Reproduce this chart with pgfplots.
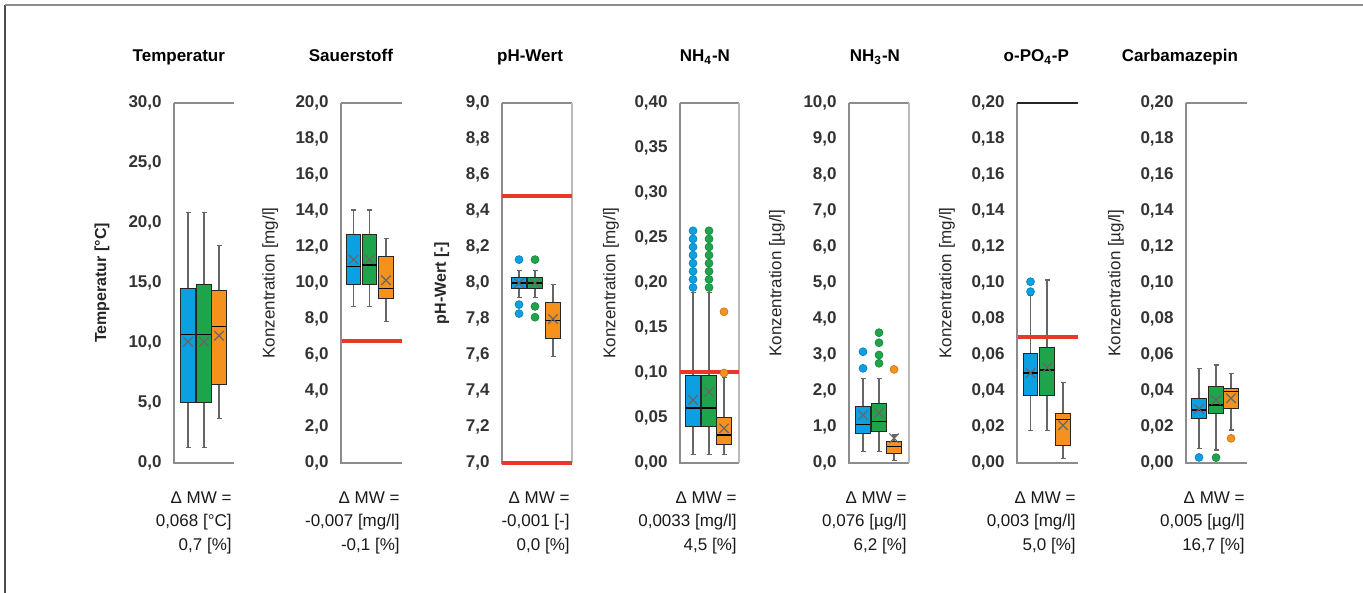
\documentclass[border=0pt]{standalone}
\usepackage{pgfplots}
\pgfplotsset{compat=1.18}
\usepgfplotslibrary{statistics}
\usepackage{fontspec}
\setmainfont{Liberation Sans}

\definecolor{cB}{RGB}{10,160,226}
\definecolor{cG}{RGB}{30,165,75}
\definecolor{cO}{RGB}{245,145,30}
\definecolor{cR}{RGB}{233,55,40}
\definecolor{axg}{RGB}{140,140,140}

\tikzset{dtext/.style={anchor=base east, inner sep=0pt, xshift=-1pt, font=\fontsize{8.5}{10}\selectfont, text=black!90}}

\pgfplotsset{
  panel/.style={
    scale only axis, anchor=south west, height=180pt,
    axis line style={draw=none},
    xtick=\empty, xmin=0,
    major tick length=0pt,
    clip=false,
    scaled y ticks=false,
    yticklabel style={font=\fontsize{8.5}{10}\selectfont\bfseries, text=black!80, anchor=east, inner sep=0pt, xshift=-6pt},
    /pgf/number format/fixed, /pgf/number format/fixed zerofill, /pgf/number format/use comma,
    /pgf/number format/assume math mode=true,
    boxplot/draw direction=y,
    boxplot/box extend=1.45,
    boxplot/whisker extend=0.5,
    boxplot/every whisker/.style={draw=black!60, line width=0.6pt},
    boxplot/every median/.style={draw=black, line width=0.6pt},
    boxplot/every average/.style={/tikz/mark=x, /tikz/mark size=3.3pt, /tikz/draw=black, /tikz/color=black, /tikz/line width=0.6pt},
    title style={at={(axis description cs:1,1)}, anchor=base east, yshift=14.5pt, xshift=-1pt, font=\fontsize{8.5}{10}\selectfont\bfseries},
    ylabel style={anchor=center, font=\fontsize{8.5}{10}\selectfont, text=black!85},
  },
  bx/.style={draw=black!60, line width=0.6pt, no markers,
    boxplot/every box/.style={fill=#1, draw=black!85, line width=0.5pt}},
  ol/.style={only marks, mark=*, mark size=2pt,
    mark options={fill=#1, draw=#1!80!black, line width=0.3pt, solid}},
  redl/.style={draw=cR, line width=2pt, no markers, forget plot},
}

\newcommand{\frameLBT}[1][axg]{\draw[axg, line width=1pt] (rel axis cs:1,0) -- (rel axis cs:0,0) -- (rel axis cs:0,1);
  \draw[#1, line width=0.8pt] (rel axis cs:0,1) -- (rel axis cs:1,1);}
\newcommand{\frameR}{\draw[axg!60, line width=0.8pt] (rel axis cs:1,0) -- (rel axis cs:1,1);}
\newcommand{\dmw}[2]{%
  \node[dtext,yshift=-20pt] at (rel axis cs:1,0) {Δ MW =};
  \node[dtext,yshift=-32pt] at (rel axis cs:1,0) {#1};
  \node[dtext,yshift=-44pt] at (rel axis cs:1,0) {#2};}

\begin{document}
\begin{tikzpicture}
\path[use as bounding box] (0,0) rectangle (681.5pt,296.5pt);
\draw[black!70, line width=0.9pt] (2.5pt,0) -- (2.5pt,294pt);
\draw[black!45, line width=0.9pt] (2.5pt,294pt) -- (681.5pt,294pt);

% ---------------- Temperatur
\begin{axis}[panel, at={(87pt,65pt)}, width=30pt, xmax=6, ymin=0, ymax=30,
  ytick={0,5,10,15,20,25,30}, /pgf/number format/precision=1,
  title={Temperatur}, ylabel={Temperatur [°C]},
  ylabel style={at={(axis description cs:-1.2,0.5)}, font=\fontsize{8}{10}\selectfont\bfseries}]
\frameLBT
\addplot[bx=cB, boxplot prepared={draw position=1.4, lower whisker=1.3, lower quartile=5.0, median=10.7, upper quartile=14.5, upper whisker=20.9, average=10.1}] coordinates {};
\addplot[bx=cG, boxplot prepared={draw position=3.0, lower whisker=1.3, lower quartile=5.0, median=10.7, upper quartile=14.9, upper whisker=20.9, average=10.1}] coordinates {};
\addplot[bx=cO, boxplot prepared={draw position=4.5, lower whisker=3.7, lower quartile=6.5, median=11.4, upper quartile=14.4, upper whisker=18.1, average=10.6}] coordinates {};
\dmw{0,068 [°C]}{0,7 [\%]}
\end{axis}

% ---------------- Sauerstoff
\begin{axis}[panel, at={(170.5pt,65pt)}, width=30.5pt, xmax=6.1, ymin=0, ymax=20,
  ytick={0,2,4,6,8,10,12,14,16,18,20}, /pgf/number format/precision=1,
  title={Sauerstoff}, ylabel={Konzentration [mg/l]},
  ylabel style={at={(axis description cs:-1.16,0.5)}}]
\frameLBT
\addplot[bx=cB, boxplot prepared={draw position=1.25, lower whisker=8.7, lower quartile=9.9, median=10.9, upper quartile=12.7, upper whisker=14.05, average=11.3}] coordinates {};
\addplot[bx=cG, boxplot prepared={draw position=2.85, lower whisker=8.7, lower quartile=9.9, median=11.0, upper quartile=12.7, upper whisker=14.05, average=11.3}] coordinates {};
\addplot[bx=cO, boxplot prepared={draw position=4.5, lower whisker=7.85, lower quartile=9.15, median=9.7, upper quartile=11.45, upper whisker=12.45, average=10.15}] coordinates {};
\addplot[redl] coordinates {(0.1,6.75) (6.1,6.75)};
\dmw{-0,007 [mg/l]}{-0,1 [\%]}
\end{axis}

% ---------------- pH-Wert
\begin{axis}[panel, at={(251pt,65pt)}, width=35pt, xmax=7, ymin=7, ymax=9,
  ytick={7,7.2,7.4,7.6,7.8,8,8.2,8.4,8.6,8.8,9}, /pgf/number format/precision=1,
  title={pH-Wert}, ylabel={pH-Wert [-]},
  ylabel style={at={(axis description cs:-0.86,0.5)}, font=\fontsize{8}{10}\selectfont\bfseries}]
\frameLBT
\frameR
\addplot[bx=cB, boxplot prepared={draw position=1.7, lower whisker=7.92, lower quartile=7.97, median=8.0, upper quartile=8.03, upper whisker=8.07, average=8.0}] coordinates {};
\addplot[ol=cB] coordinates {(1.7,8.13) (1.7,7.88) (1.7,7.83)};
\addplot[bx=cG, boxplot prepared={draw position=3.3, lower whisker=7.92, lower quartile=7.97, median=8.0, upper quartile=8.03, upper whisker=8.07, average=8.0}] coordinates {};
\addplot[ol=cG] coordinates {(3.3,8.13) (3.3,7.87) (3.3,7.81)};
\addplot[bx=cO, boxplot prepared={draw position=5.1, lower whisker=7.59, lower quartile=7.69, median=7.79, upper quartile=7.89, upper whisker=7.99, average=7.8}] coordinates {};
\addplot[redl] coordinates {(0,8.485) (7,8.485)};
\addplot[redl] coordinates {(0,7.0) (7,7.0)};
\dmw{-0,001 [-]}{0,0 [\%]}
\end{axis}

% ---------------- NH4-N
\begin{axis}[panel, at={(340pt,65pt)}, width=29.5pt, xmax=5.9, ymin=0, ymax=0.4,
  ytick={0,0.05,0.1,0.15,0.2,0.25,0.3,0.35,0.4}, /pgf/number format/precision=2,
  title={NH\textsubscript{4}-N}, ylabel={Konzentration [mg/l]},
  ylabel style={at={(axis description cs:-1.17,0.5)}}]
\frameLBT
\frameR
\addplot[bx=cB, boxplot prepared={draw position=1.3, lower whisker=0.009, lower quartile=0.040, median=0.061, upper quartile=0.097, upper whisker=0.189, average=0.070}] coordinates {};
\addplot[ol=cB] coordinates {(1.3,0.195) (1.3,0.204) (1.3,0.213) (1.3,0.222) (1.3,0.231) (1.3,0.240) (1.3,0.249) (1.3,0.258)};
\addplot[bx=cG, boxplot prepared={draw position=2.9, lower whisker=0.009, lower quartile=0.040, median=0.061, upper quartile=0.097, upper whisker=0.189, average=0.079}] coordinates {};
\addplot[ol=cG] coordinates {(2.9,0.195) (2.9,0.204) (2.9,0.213) (2.9,0.222) (2.9,0.231) (2.9,0.240) (2.9,0.249) (2.9,0.258)};
\addplot[bx=cO, boxplot prepared={draw position=4.4, lower whisker=0.009, lower quartile=0.021, median=0.031, upper quartile=0.051, upper whisker=0.095, average=0.0385}] coordinates {};
\addplot[ol=cO] coordinates {(4.4,0.168) (4.4,0.100)};
\addplot[redl] coordinates {(0,0.101) (5.9,0.101)};
\dmw{0,0033 [mg/l]}{4,5 [\%]}
\end{axis}

% ---------------- NH3-N
\begin{axis}[panel, at={(424.5pt,65pt)}, width=30pt, xmax=6, ymin=0, ymax=10,
  ytick={0,1,2,3,4,5,6,7,8,9,10}, /pgf/number format/precision=1,
  title={NH\textsubscript{3}-N}, ylabel={Konzentration [µg/l]},
  ylabel style={at={(axis description cs:-1.2,0.5)}}]
\frameLBT
\frameR
\addplot[bx=cB, boxplot prepared={draw position=1.4, lower whisker=0.31, lower quartile=0.82, median=1.06, upper quartile=1.58, upper whisker=2.35, average=1.33}] coordinates {};
\addplot[ol=cB] coordinates {(1.4,3.09) (1.4,2.63)};
\addplot[bx=cG, boxplot prepared={draw position=3.0, lower whisker=0.31, lower quartile=0.87, median=1.15, upper quartile=1.66, upper whisker=2.35, average=1.39}] coordinates {};
\addplot[ol=cG] coordinates {(3.0,3.62) (3.0,3.34) (3.0,3.0) (3.0,2.77)};
\addplot[bx=cO, boxplot prepared={draw position=4.5, lower whisker=0.08, lower quartile=0.25, median=0.45, upper quartile=0.59, upper whisker=0.78, average=0.69}] coordinates {};
\addplot[ol=cO] coordinates {(4.5,2.6)};
\dmw{0,076 [µg/l]}{6,2 [\%]}
\end{axis}

% ---------------- o-PO4-P
\begin{axis}[panel, at={(508.5pt,65pt)}, width=30.5pt, xmax=6.1, ymin=0, ymax=0.2,
  ytick={0,0.02,0.04,0.06,0.08,0.1,0.12,0.14,0.16,0.18,0.2}, /pgf/number format/precision=2,
  title={o-PO\textsubscript{4}-P}, ylabel={Konzentration [mg/l]},
  ylabel style={at={(axis description cs:-1.15,0.5)}}]
\frameLBT[black!85]
\addplot[bx=cB, boxplot prepared={draw position=1.35, lower whisker=0.018, lower quartile=0.0374, median=0.050, upper quartile=0.0606, upper whisker=0.093, average=0.050}] coordinates {};
\addplot[ol=cB] coordinates {(1.35,0.1007) (1.35,0.0952)};
\addplot[bx=cG, boxplot prepared={draw position=3.0, lower whisker=0.018, lower quartile=0.0374, median=0.0517, upper quartile=0.0643, upper whisker=0.1017, average=0.053}] coordinates {};
\addplot[bx=cO, boxplot prepared={draw position=4.6, lower whisker=0.0026, lower quartile=0.0096, median=0.024, upper quartile=0.0276, upper whisker=0.0448, average=0.021}] coordinates {};
\addplot[redl] coordinates {(0.1,0.07) (6.1,0.07)};
\dmw{0,003 [mg/l]}{5,0 [\%]}
\end{axis}

% ---------------- Carbamazepin
\begin{axis}[panel, at={(593pt,65pt)}, width=30.5pt, xmax=6.1, ymin=0, ymax=0.2,
  ytick={0,0.02,0.04,0.06,0.08,0.1,0.12,0.14,0.16,0.18,0.2}, /pgf/number format/precision=2,
  title={Carbamazepin}, ylabel={Konzentration [µg/l]},
  ylabel style={at={(axis description cs:-1.15,0.5)}}]
\frameLBT
\addplot[bx=cB, boxplot prepared={draw position=1.3, lower whisker=0.0082, lower quartile=0.0248, median=0.0294, upper quartile=0.036, upper whisker=0.0526, average=0.030}] coordinates {};
\addplot[ol=cB] coordinates {(1.3,0.0031)};
\addplot[bx=cG, boxplot prepared={draw position=3.0, lower whisker=0.0072, lower quartile=0.0276, median=0.0322, upper quartile=0.0424, upper whisker=0.0544, average=0.035}] coordinates {};
\addplot[ol=cG] coordinates {(3.0,0.003)};
\addplot[bx=cO, boxplot prepared={draw position=4.5, lower whisker=0.0183, lower quartile=0.0304, median=0.0396, upper quartile=0.0415, upper whisker=0.0498, average=0.036}] coordinates {};
\addplot[ol=cO] coordinates {(4.5,0.0137)};
\dmw{0,005 [µg/l]}{16,7 [\%]}
\end{axis}
\end{tikzpicture}
\end{document}
